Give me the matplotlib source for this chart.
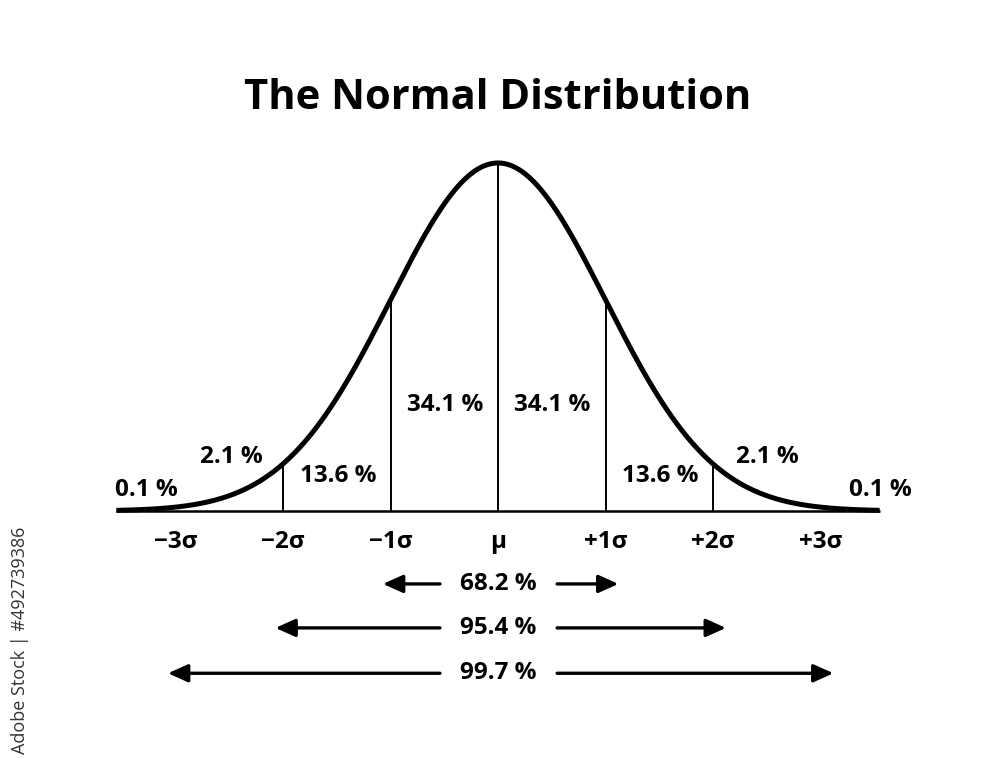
import numpy as np
import matplotlib
matplotlib.use("Agg")
import matplotlib.pyplot as plt

plt.rcParams['font.family'] = ['Open Sans', 'DejaVu Sans']

# data
sigma_ticks = [-3, -2, -1, 0, 1, 2, 3]
tick_labels = ['\u22123\u03c3', '\u22122\u03c3', '\u22121\u03c3', '\u03bc', '+1\u03c3', '+2\u03c3', '+3\u03c3']
band_lines = [-2, -1, 0, 1, 2]
band_pct = ['0.1 %', '2.1 %', '13.6 %', '34.1 %', '34.1 %', '13.6 %', '2.1 %', '0.1 %']
band_x = [-3.27, -2.48, -1.49, -0.49, 0.50, 1.51, 2.51, 3.56]
band_y = [0.024, 0.062, 0.040, 0.1215, 0.1215, 0.040, 0.062, 0.024]
range_k = [1, 2, 3]
range_pct = ['68.2 %', '95.4 %', '99.7 %']

def pdf(x):
    return np.exp(-0.5 * x**2) / np.sqrt(2 * np.pi)

fig = plt.figure(figsize=(10, 7.66), dpi=100)
ax = fig.add_axes([0, 0, 1, 1])
ax.set_xlim(-498 / 107.5, 502 / 107.5)
ax.set_ylim(-255 / 872.4, 511 / 872.4)
ax.axis('off')

x = np.linspace(-3.55, 3.55, 600)
ax.plot(x, pdf(x), color='black', lw=3.6, solid_capstyle='butt', zorder=3)
ax.plot([-3.55, 3.55], [0, 0], color='black', lw=1.8, solid_capstyle='butt')
for s in band_lines:
    ax.plot([s, s], [0, pdf(s)], color='black', lw=1.4)

fs = 17.5
for s, lab in zip(sigma_ticks, tick_labels):
    ax.text(s, -0.035, lab, ha='center', va='center', fontsize=fs, fontweight='bold')

for xx, yy, lab in zip(band_x, band_y, band_pct):
    ax.text(xx, yy, lab, ha='center', va='center', fontsize=fs, fontweight='bold')

row_y = [-0.0836, -0.134, -0.186]
for k, lab, yy in zip(range_k, range_pct, row_y):
    ax.text(0, yy, lab, ha='center', va='center', fontsize=fs, fontweight='bold')
    for tip, tail in ((-(k + 0.07), -0.54), (k + 0.12, 0.55)):
        ax.annotate('', xy=(tip, yy), xytext=(tail, yy),
                    arrowprops=dict(arrowstyle='-|>,head_length=0.6,head_width=0.27',
                                    lw=2.4, color='black', shrinkA=0, shrinkB=0,
                                    mutation_scale=20))

ax.text(0, 0.4734, 'The Normal Distribution', ha='center', va='center',
        fontsize=30, fontweight='bold')

fig.text(0.02, 1 - 640 / 766, 'Adobe Stock | #492739386', rotation=90,
         ha='center', va='center', fontsize=13, color='#333333')

fig.savefig('out.png', dpi=100, facecolor='white')
